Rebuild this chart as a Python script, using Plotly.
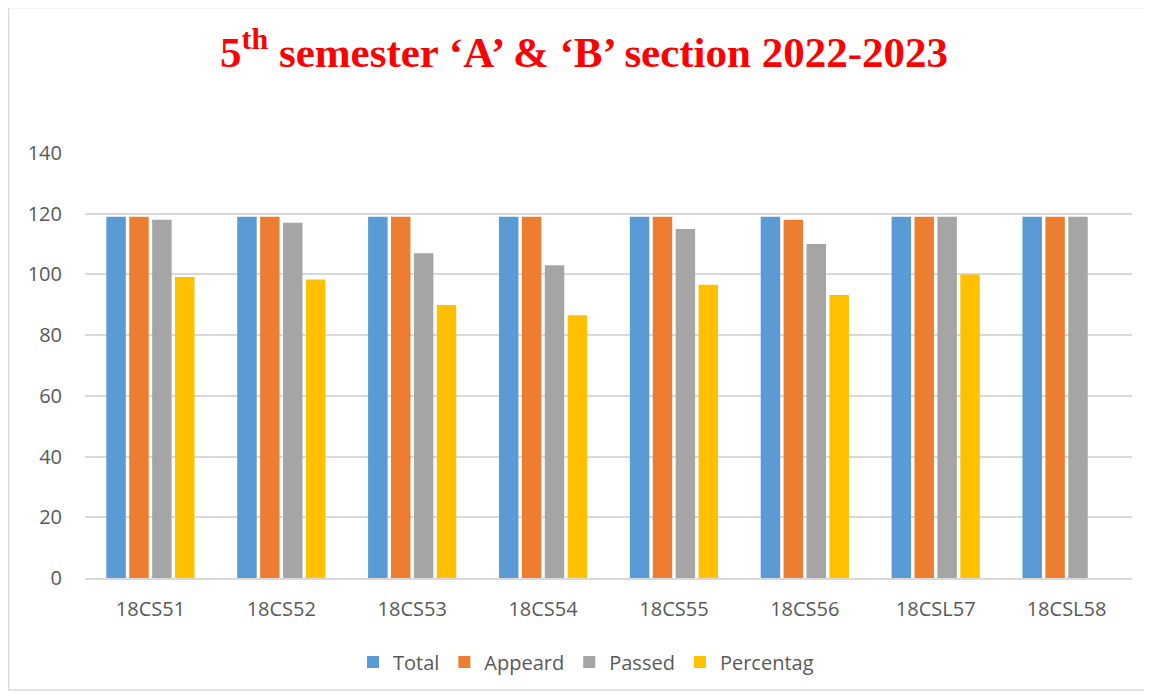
import plotly.graph_objects as go

categories = ["18CS51", "18CS52", "18CS53", "18CS54", "18CS55", "18CS56", "18CSL57", "18CSL58"]
total = [119, 119, 119, 119, 119, 119, 119, 119]
appeared = [119, 119, 119, 119, 119, 118, 119, 119]
passed = [118, 117, 107, 103, 115, 110, 119, 119]
percentage = [99.16, 98.32, 89.92, 86.55, 96.64, 93.22, 100, None]

series_names = ["Total", "Appeard", "Passed", "Percentag"]
colors = ["#5B9BD5", "#ED7D31", "#A5A5A5", "#FFC000"]
series = [total, appeared, passed, percentage]

# page has an 8px body margin: figure origin sits at (8, 8)
OFF = 8
PAGE_W, PAGE_H = 1152, 694
W, H = PAGE_W - OFF, PAGE_H - OFF
# plot area in page pixels
PX0, PX1, PY0, PY1 = 85, 1132, 153, 578
L = PX0 - OFF
R = PAGE_W - PX1
T = PY0 - OFF
B = PAGE_H - PY1
pw = PX1 - PX0
ph = PY1 - PY0

def px2x(px):
    return (px - PX0) / pw

def py2y(py):
    return (PY1 - py) / ph

fig = go.Figure()
for name, vals, col in zip(series_names, series, colors):
    fig.add_trace(go.Bar(x=categories, y=vals, name=name,
                         marker=dict(color=col, line=dict(width=0))))

fig.add_shape(type="rect", xref="paper", yref="paper",
              x0=px2x(8.5), x1=px2x(1147), y0=py2y(690), y1=py2y(7.5),
              line=dict(color="#D9D9D9", width=1.5), layer="below")

fig.update_layout(
    width=W, height=H,
    margin=dict(l=L, r=R, t=T, b=B),
    paper_bgcolor="white", plot_bgcolor="white",
    barmode="group", bargap=0.30, bargroupgap=0.15,
    title=dict(text="5<sup style='font-size:26px'>th</sup> semester ‘A’ & ‘B’ section 2022-2023",
               x=px2x(584), xref="paper", y=1 - (52 - OFF) / H, yref="container",
               xanchor="center", yanchor="middle",
               font=dict(family="Liberation Serif", size=43, color="#FF0000", weight="bold")),
    legend=dict(orientation="h", x=px2x(586), xanchor="center", y=py2y(662), yanchor="middle",
                font=dict(family="Open Sans", size=20, color="#595959"),
                itemwidth=30, traceorder="normal"),
    font=dict(family="Open Sans", size=20, color="#595959"),
)
fig.update_xaxes(showgrid=False, showline=True, linecolor="#D9D9D9", linewidth=1.5,
                 ticks="", ticklabelstandoff=12,
                 tickfont=dict(family="Open Sans", size=20, color="#595959"))
fig.update_yaxes(range=[0, 140], dtick=20, showgrid=True, gridcolor="#D9D9D9", gridwidth=1.5,
                 zeroline=False, showline=False, ticks="", ticklabelstandoff=22,
                 tickfont=dict(family="Open Sans", size=20, color="#595959"))

fig.write_html("out.html")
